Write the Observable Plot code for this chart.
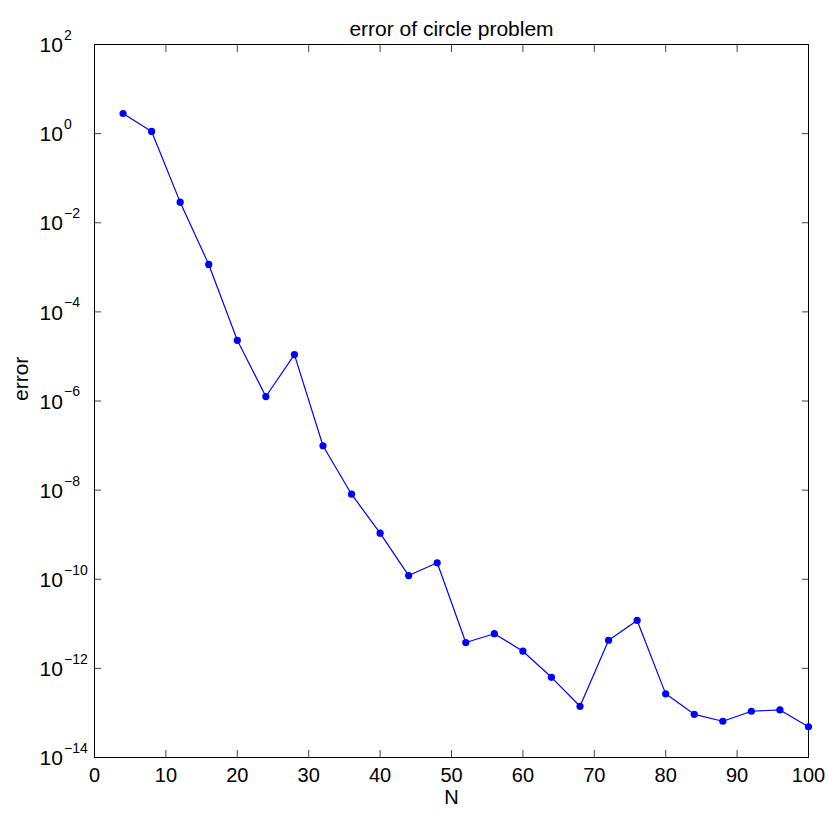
<!DOCTYPE html>
<html><head><meta charset="utf-8">
<script src="https://cdn.jsdelivr.net/npm/d3@7"></script>
<script src="https://cdn.jsdelivr.net/npm/@observablehq/plot@0.6"></script>
<style>
body{margin:0;background:#fff;}
#chart svg{font-family:"Liberation Sans",Arial,Helvetica,sans-serif;}
</style>
</head><body><div id="chart"></div>
<script>
const N = [4, 8, 12, 16, 20, 24, 28, 32, 36, 40, 44, 48, 52, 56, 60, 64, 68, 72, 76, 80, 84, 88, 92, 96, 100];
const errorValues = [2.83, 1.12, 2.9e-2, 1.16e-3, 2.3e-5, 1.26e-6, 1.1e-5, 9.9e-8, 8.1e-9, 1.08e-9,
  1.21e-10, 2.34e-10, 3.8e-12, 6.0e-12, 2.43e-12, 6.3e-13, 1.41e-13, 4.28e-12, 1.19e-11, 2.68e-13,
  9.3e-14, 6.5e-14, 1.09e-13, 1.17e-13, 4.9e-14];
const xTicks = [0, 10, 20, 30, 40, 50, 60, 70, 80, 90, 100];
const yExponents = [2, 0, -2, -4, -6, -8, -10, -12, -14];
const title = "error of circle problem";
const xLabel = "N";
const yLabel = "error";

const yTicks = yExponents.map(e => Math.pow(10, e));
const data = N.map((n, i) => ({n, e: errorValues[i]}));
const expLabel = e => (e < 0 ? "\u2212" : "") + Math.abs(e);
const blue = "#0000ff";
const tickColor = "#444";

const chart = Plot.plot({
  width: 829,
  height: 816,
  marginLeft: 94,
  marginRight: 21,
  marginTop: 44,
  marginBottom: 59,
  style: {fontFamily: '"Liberation Sans", Arial, Helvetica, sans-serif', fontSize: "21px", background: "white", color: "black"},
  x: {domain: [0, 100]},
  y: {type: "log", domain: [1e-14, 1e2]},
  marks: [
    Plot.axisX(xTicks, {anchor: "bottom", tickSize: -7, fill: "none", label: null, stroke: tickColor}),
    Plot.axisX(xTicks, {anchor: "top", tickSize: -7, fill: "none", label: null, stroke: tickColor}),
    Plot.axisY(yTicks, {anchor: "left", tickSize: -7, fill: "none", label: null, stroke: tickColor}),
    Plot.axisY(yTicks, {anchor: "right", tickSize: -7, fill: "none", label: null, stroke: tickColor}),
    Plot.axisX(xTicks, {anchor: "bottom", tickSize: 0, tickPadding: 10, label: null, fill: "black", fontSize: 20}),
    Plot.text(yExponents, {y: e => Math.pow(10, e), text: () => "10", frameAnchor: "left", textAnchor: "start", dx: -55, dy: 1, fontSize: 21, fill: "black"}),
    Plot.text(yExponents, {y: e => Math.pow(10, e), text: expLabel, frameAnchor: "left", textAnchor: "start", dx: -30.5, dy: -9, fontSize: 14, fill: "black"}),
    Plot.frame({stroke: "black", strokeWidth: 1}),
    Plot.line(data, {x: "n", y: "e", stroke: blue, strokeWidth: 1.2}),
    Plot.dot(data, {x: "n", y: "e", r: 3.6, fill: blue, stroke: "none"}),
    Plot.text([title], {text: d => d, frameAnchor: "top", dy: -23.5, fontSize: 21, fill: "black"}),
    Plot.text([xLabel], {text: d => d, frameAnchor: "bottom", dy: 46, fontSize: 20, fill: "black"}),
    Plot.text([yLabel], {text: d => d, frameAnchor: "left", dx: -73, rotate: -90, fontSize: 21, fill: "black"})
  ]
});
document.getElementById("chart").appendChild(chart);
</script>
</body></html>
